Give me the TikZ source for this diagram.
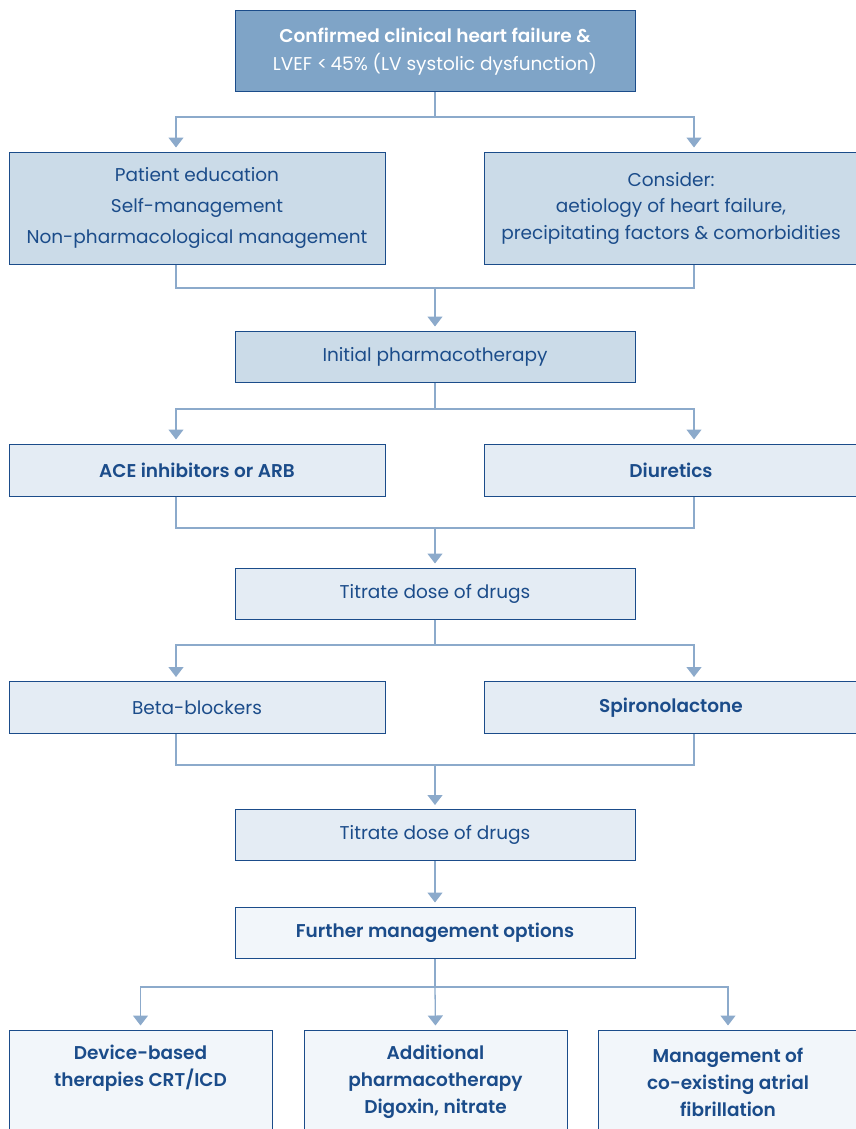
\documentclass[tikz,border=0pt]{standalone}
\usepackage{fontspec}
\setmainfont{Poppins}[BoldFont={Poppins SemiBold}]
\usetikzlibrary{arrows.meta}
\definecolor{navy}{HTML}{1B4C8A}
\definecolor{edge}{HTML}{8CAACB}
\definecolor{fillA}{HTML}{7FA4C7}
\definecolor{fillB}{HTML}{CBDBE8}
\definecolor{fillC}{HTML}{E4ECF4}
\definecolor{fillD}{HTML}{F2F6FA}
\begin{document}
\begin{tikzpicture}[x=1pt,y=-1pt,
  box/.style={draw=navy,line width=1pt,align=center,inner sep=0pt,text=navy,font=\fontsize{18.5}{28}\selectfont},
  wide/.style={box,minimum width=400,minimum height=51},
  side/.style={box,minimum width=376,minimum height=52},
  sider/.style={box,minimum width=374,minimum height=52},
  low/.style={box,fill=fillD,minimum width=263,minimum height=104,font=\fontsize{18.5}{27}\selectfont\bfseries},
  line/.style={draw=edge,line width=1.3pt},
  arr/.style={line,-{Triangle[width=15pt,length=10pt]},shorten >=4pt}]
\useasboundingbox (0,0) rectangle (856,1129);
\clip (0,0) rectangle (856,1129);
% boxes
\node[wide,fill=fillA,text=white,minimum height=81] (conf) at (435,51.5)
  {{\bfseries Confirmed clinical heart failure \&}\\LVEF <\,45\% (LV systolic dysfunction)};
\node[side,fill=fillB,minimum height=112,font=\fontsize{18.5}{31}\selectfont] (edu) at (197,208)
  {Patient education\\Self-management\\Non-pharmacological management};
\node[sider,fill=fillB,minimum height=112,font=\fontsize{18.5}{26.5}\selectfont] (cons) at (671,208)
  {Consider:\\aetiology of heart failure,\\precipitating factors \& comorbidities};
\node[wide,fill=fillB] (init) at (435,356.5) {Initial pharmacotherapy};
\node[side,fill=fillC,font=\fontsize{18.5}{28}\selectfont\bfseries] (ace) at (197,470) {ACE inhibitors or ARB};
\node[sider,fill=fillC,font=\fontsize{18.5}{28}\selectfont\bfseries] (diu) at (671,470) {Diuretics};
\node[wide,fill=fillC] (tit1) at (435,593.5) {Titrate dose of drugs};
\node[side,fill=fillC] (beta) at (197,707.5) {Beta-blockers};
\node[sider,fill=fillC,font=\fontsize{18.5}{28}\selectfont\bfseries] (spiro) at (671,707.5) {Spironolactone};
\node[wide,fill=fillC] (tit2) at (435,835) {Titrate dose of drugs};
\node[wide,fill=fillD,font=\fontsize{18.5}{28}\selectfont\bfseries] (fur) at (435,932.5) {Further management options};
\node[low] (dev) at (140.5,1082) {Device-based\\therapies CRT/ICD\\\phantom{Dg}};
\node[low] (add) at (435.5,1082) {Additional\\pharmacotherapy\\Digoxin, nitrate};
\node[low,minimum width=260] (mgmt) at (728,1082) {Management of\\co-existing atrial\\fibrillation};
% junctions
\coordinate (xl) at (176,0);
\coordinate (xr) at (694,0);
\coordinate (s1) at (435,117);
\coordinate (m1) at (435,288);
\coordinate (s2) at (435,409);
\coordinate (m2) at (435,528);
\coordinate (s3) at (435,645);
\coordinate (m3) at (435,765);
\coordinate (s4) at (435,987);
% connectors
\draw[line] (conf.south) -- (s1);
\draw[arr] (s1) -| (xl |- edu.north);
\draw[arr] (s1) -| (xr |- cons.north);
\draw[line] (xl |- edu.south) |- (m1) -| (xr |- cons.south);
\draw[arr] (m1) -- (init.north);
\draw[line] (init.south) -- (s2);
\draw[arr] (s2) -| (xl |- ace.north);
\draw[arr] (s2) -| (xr |- diu.north);
\draw[line] (xl |- ace.south) |- (m2) -| (xr |- diu.south);
\draw[arr] (m2) -- (tit1.north);
\draw[line] (tit1.south) -- (s3);
\draw[arr] (s3) -| (xl |- beta.north);
\draw[arr] (s3) -| (xr |- spiro.north);
\draw[line] (xl |- beta.south) |- (m3) -| (xr |- spiro.south);
\draw[arr] (m3) -- (tit2.north);
\draw[arr] (tit2.south) -- (fur.north);
\draw[line] (fur.south) -- (s4);
\draw[arr] (s4) -| (dev.north);
\draw[arr] (s4) -- (add.north);
\draw[arr] (s4) -| (mgmt.north);
\end{tikzpicture}
\end{document}
